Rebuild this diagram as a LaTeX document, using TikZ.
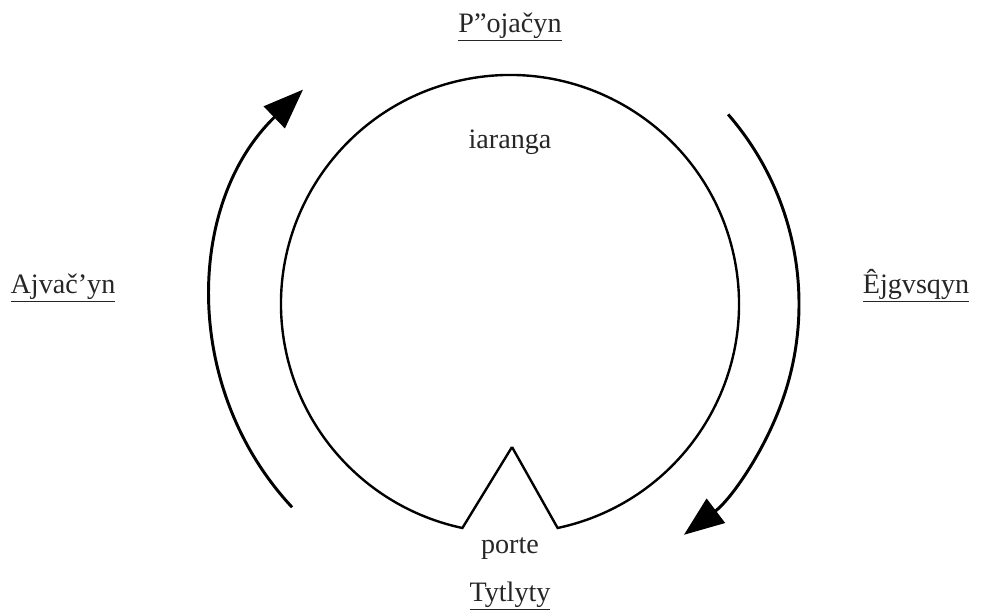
\documentclass[tikz,border=0pt]{standalone}
\usepackage{fontspec}
\setmainfont{Liberation Serif}
\usetikzlibrary{arrows.meta,calc}
\tikzset{
  wall/.style  ={draw=black,line width=1.7pt,line join=miter},
  turn/.style  ={-{Triangle[length=10mm,width=7.5mm]},black,line width=2.1pt},
  lbl/.style   ={font=\fontsize{20}{24}\selectfont,text=black!85,inner sep=1pt},
}
\begin{document}
\begin{tikzpicture}[x=0.025cm,y=0.025cm]
\useasboundingbox (0,0) rectangle (997,616);
\coordinate (c) at (510,312);
%% yaranga outline with the door notch
\coordinate (dl) at ($(c)+(-102:229)$);
\coordinate (dr) at ($(c)+(-78:229)$);
\coordinate (dtop) at (512,169);
\draw[wall] (dtop) -- (dr) arc[start angle=-78,end angle=258,radius=229] -- (dtop);
%% turning directions
\draw[turn] ($(c)+(223:298)$) arc[start angle=223,end angle=134,radius=298];
\draw[turn] ($(c)+(41:289)$) arc[start angle=41,end angle=-53,radius=289];
%% labels
\node[lbl] (nord) at (510,589) {\underline{P”ojačyn}};
\node[lbl] (inner) at (510,474) {iaranga};
\node[lbl] (west) at (63,328) {\underline{Ajvač’yn}};
\node[lbl] (east) at (916,330) {\underline{Êjgvsqyn}};
\node[lbl] (door) at (510,67) {porte};
\node[lbl] (sud) at (510,20) {\underline{Tytlyty}};
\end{tikzpicture}
\end{document}
